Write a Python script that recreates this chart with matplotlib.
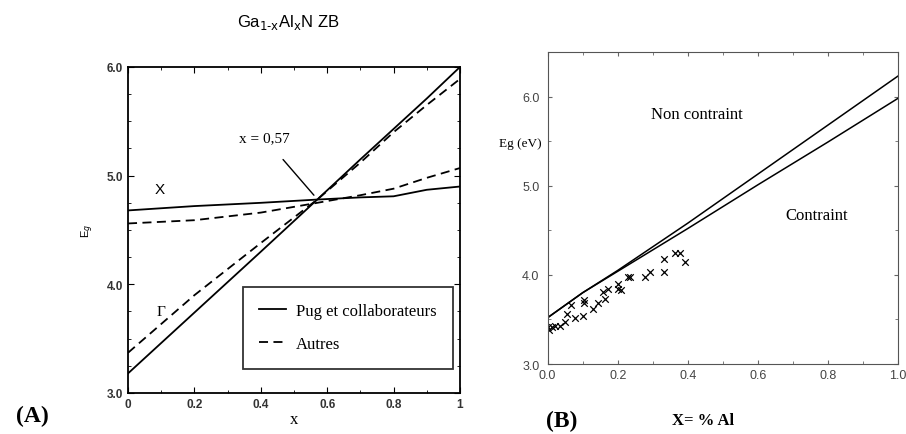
import numpy as np
import matplotlib.pyplot as plt
from matplotlib.ticker import MultipleLocator

# panel A : Ga1-xAlxN zinc blende, Gamma and X gaps
xa = [0.0, 0.2, 0.4, 0.57, 0.7, 0.8, 0.9, 1.0]
gam_pug = [3.18, 3.74, 4.30, 4.78, 5.15, 5.43, 5.71, 6.00]
gam_aut = [3.37, 3.90, 4.38, 4.78, 5.12, 5.40, 5.65, 5.89]
x_pug = [4.68, 4.72, 4.75, 4.78, 4.80, 4.81, 4.87, 4.90]
x_aut = [4.56, 4.59, 4.66, 4.75, 4.82, 4.88, 4.98, 5.07]

# panel B : strained / unstrained gap + experimental points
xb = [0.0, 0.1, 0.2, 0.4, 0.6, 0.8, 1.0]
eg_non = [3.52, 3.80, 4.05, 4.58, 5.13, 5.68, 6.23]
eg_con = [3.52, 3.80, 4.04, 4.52, 5.01, 5.49, 5.98]
xexp = [0.002, 0.005, 0.012, 0.02, 0.035, 0.05, 0.054, 0.068, 0.078, 0.10, 0.104,
        0.104, 0.13, 0.145, 0.163, 0.159, 0.173, 0.20, 0.20, 0.21, 0.23, 0.235,
        0.278, 0.292, 0.332, 0.332, 0.363, 0.377, 0.392]
eexp = [3.41, 3.38, 3.42, 3.43, 3.43, 3.47, 3.56, 3.66, 3.52, 3.54, 3.68,
        3.72, 3.62, 3.68, 3.73, 3.81, 3.84, 3.90, 3.84, 3.83, 3.98, 3.98,
        3.98, 4.03, 4.18, 4.03, 4.24, 4.24, 4.14]

serif = 'Liberation Serif'
sans = 'Liberation Sans'

fig = plt.figure(figsize=(9.06, 4.35), dpi=100)

# ---------- (A)
ax = fig.add_axes([0.1413, 0.0943, 0.3664, 0.7494])
ax.plot(xa, gam_pug, color='black', lw=1.3)
ax.plot(xa, x_pug, color='black', lw=1.3, label='Pug et collaborateurs')
ax.plot(xa, gam_aut, color='black', lw=1.3, ls=(0, (5, 3)))
ax.plot(xa, x_aut, color='black', lw=1.3, ls=(0, (5, 3)), label='Autres')
ax.set_xlim(0, 1)
ax.set_ylim(3, 6)
ax.xaxis.set_minor_locator(MultipleLocator(0.1))
ax.yaxis.set_minor_locator(MultipleLocator(0.25))
ax.set_xticks([0, 0.2, 0.4, 0.6, 0.8, 1.0], ['0', '0.2', '0.4', '0.6', '0.8', '1'])
ax.set_yticks([3, 4, 5, 6], ['3.0', '4.0', '5.0', '6.0'])
ax.tick_params(which='both', direction='in', top=True, right=True, labelsize=8.5)
ax.tick_params(which='major', length=4)
ax.tick_params(which='minor', length=2)
for lb in ax.get_xticklabels() + ax.get_yticklabels():
    lb.set_family(sans)
    lb.set_weight('bold')
    lb.set_color('#333333')
for s in ax.spines.values():
    s.set_linewidth(1.3)
ax.set_xlabel('x', family=serif, fontsize=12, labelpad=1)
ax.set_ylabel('E$_g$', family=sans, fontsize=8, labelpad=8)
ax.text(0.095, 4.81, 'X', family=sans, fontsize=11, ha='center', va='bottom')
ax.text(0.10, 3.75, 'Γ', family=serif, fontsize=11, ha='center', va='center')
ax.annotate('x = 0,57', xy=(0.56, 4.82), xytext=(0.41, 5.35),
            family=serif, fontsize=11, ha='center', va='center',
            arrowprops=dict(arrowstyle='-', color='black', lw=1.0, shrinkA=12, shrinkB=0))
leg = ax.legend(loc='lower right', bbox_to_anchor=(0.98, 0.075), prop={'family': serif, 'size': 12},
                frameon=True, fancybox=False, edgecolor='black', handlelength=1.6,
                borderpad=1.0, labelspacing=1.0, handletextpad=0.6, borderaxespad=0)
leg.get_frame().set_linewidth(1.3)
fig.text(288 / 906, 1 - 23 / 435, 'Ga$_{\\mathrm{1\u2011x}}$Al$_{\\mathrm{x}}$N ZB', family=sans,
         fontsize=12, ha='center', va='center')
fig.text(32 / 906, 1 - 416 / 435, '(A)', family=serif, fontsize=17, weight='bold',
         ha='center', va='center')

# ---------- (B)
bx = fig.add_axes([0.6045, 0.1609, 0.3866, 0.7172])
bx.plot(xb, eg_non, color='black', lw=1.1)
bx.plot(xb, eg_con, color='black', lw=1.1)
bx.scatter(xexp, eexp, marker='x', color='black', s=22, lw=0.9)
bx.set_xlim(0, 1)
bx.set_ylim(3, 6.5)
bx.set_xticks([0, 0.2, 0.4, 0.6, 0.8, 1.0], ['0.0', '0.2', '0.4', '0.6', '0.8', '1.0'])
bx.set_yticks([3, 4, 5, 6], ['3.0', '4.0', '5.0', '6.0'])
bx.xaxis.set_minor_locator(MultipleLocator(0.1))
bx.yaxis.set_minor_locator(MultipleLocator(0.5))
bx.tick_params(which='both', direction='in', top=True, right=True, labelsize=9,
               labelcolor='#444444', color='#666666')
bx.tick_params(which='major', length=3)
bx.tick_params(which='minor', length=2)
bx.tick_params(axis='y', pad=6)
for lb in bx.get_xticklabels() + bx.get_yticklabels():
    lb.set_family(sans)
for s in bx.spines.values():
    s.set_linewidth(0.8)
    s.set_color('#555555')
bx.text(0.425, 5.80, 'Non contraint', family=serif, fontsize=12, ha='center', va='center')
bx.text(0.767, 4.67, 'Contraint', family=serif, fontsize=12, ha='center', va='center')
fig.text(520 / 906, 1 - 144 / 435, 'Eg (eV)', family=serif, fontsize=9.5, ha='center',
         va='center')
fig.text(562 / 906, 1 - 421 / 435, '(B)', family=serif, fontsize=17, weight='bold',
         ha='center', va='center')
fig.text(703 / 906, 1 - 421 / 435, 'X= % Al', family=serif, fontsize=12, weight='bold',
         ha='center', va='center')

fig.savefig('out.png', dpi=100)
